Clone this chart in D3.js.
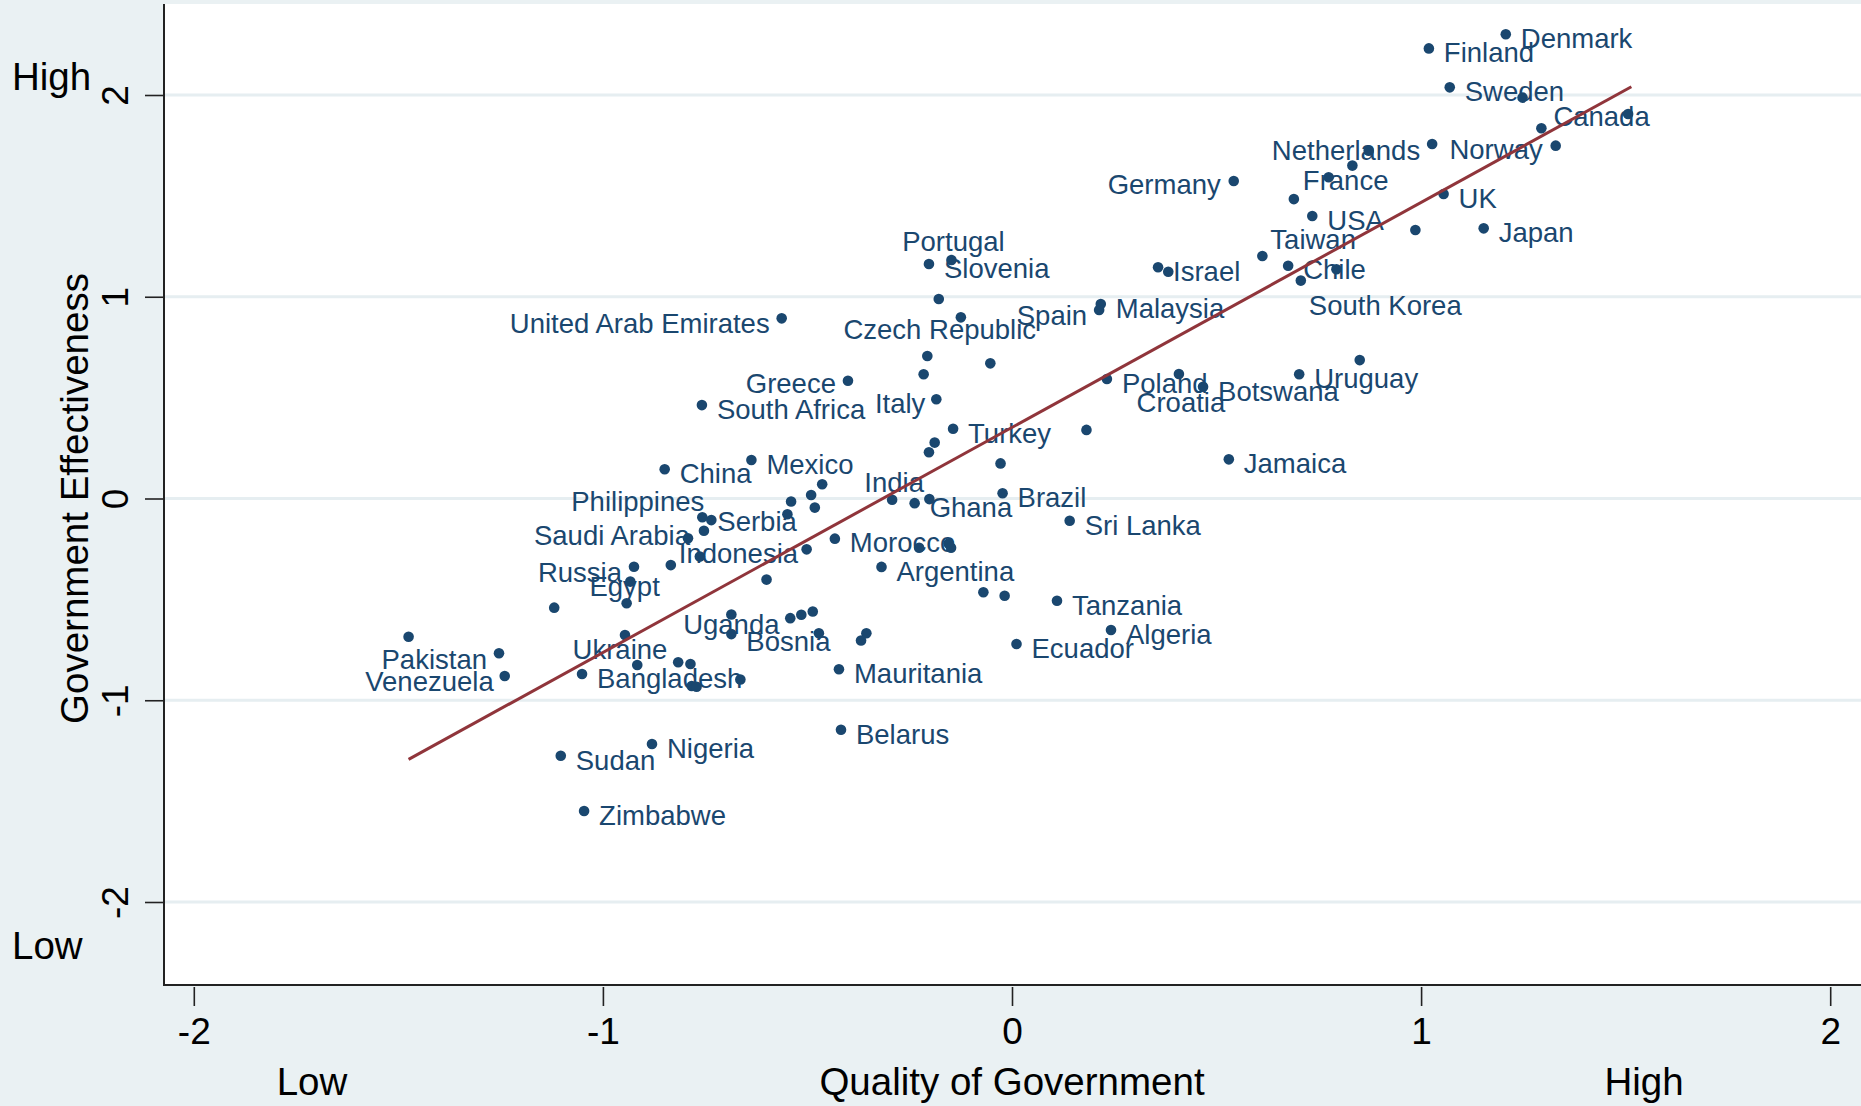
<!DOCTYPE html>
<html>
<head>
<meta charset="utf-8">
<script src="https://cdn.jsdelivr.net/npm/d3@7/dist/d3.min.js"></script>
<style>
  html, body { margin: 0; padding: 0; background: #eaf1f3; }
  svg { display: block; }
  text { font-family: "Liberation Sans", Arial, Helvetica, sans-serif; }
</style>
</head>
<body>
<svg id="chart" width="1861" height="1106"></svg>
<script>
// ---------------- DATA ----------------
// Country names ("" = unlabeled marker)
const countries = [
  "Denmark","Finland","Sweden","Canada","Netherlands","Norway","Germany","France","UK","USA",
  "Japan","Taiwan","Chile","South Korea","Israel","Malaysia","Spain","Poland","Croatia","Botswana",
  "Uruguay","Jamaica","Brazil","Sri Lanka","Tanzania","Algeria","Ecuador","Portugal","Slovenia","Czech Republic",
  "United Arab Emirates","Greece","South Africa","Italy","Turkey","Mexico","China","India","Ghana","Philippines",
  "Serbia","Saudi Arabia","Indonesia","Russia","Egypt","Pakistan","Venezuela","Ukraine","Bangladesh","Uganda",
  "Bosnia","Argentina","Morocco","Mauritania","Belarus","Sudan","Nigeria","Zimbabwe",
  "","","","","","","","","","",
  "","","","","","","","","","",
  "","","","","","","","","","",
  "","","","","","","","","","",
  "","","","",""
];
// Quality of Government (x)
const qualityOfGovernment = [
  1.207, 1.019, 1.070, 1.294, 1.027, 1.329, 0.542, 0.689, 1.055, 0.734,
  1.153, 0.612, 0.675, 0.706, 0.357, 0.217, 0.213, 0.232, 0.408, 0.467,
  0.702, 0.530, -0.023, 0.141, 0.110, 0.242, 0.011, -0.148, -0.203, -0.179,
  -0.563, -0.401, -0.758, -0.185, -0.144, -0.637, -0.849, -0.293, -0.238, -0.735,
  -0.757, -0.753, -0.834, -0.924, -0.942, -1.254, -1.240, -0.946, -1.051, -0.686,
  -0.686, -0.319, -0.433, -0.423, -0.418, -1.103, -0.880, -1.046,
  1.248, 1.506, 0.872, 0.832, 0.774, 0.986, 0.793, 0.382, 0.850, 0.182,
  -0.070, -0.018, -0.125, -0.207, -0.053, -0.216, -0.189, -0.203, -0.028, -0.464,
  -0.491, -0.482, -0.540, -0.549, -0.202, -0.792, -0.763, -0.933, -1.119, -1.475,
  -0.502, -0.227, -0.155, -0.149, -0.600, -0.542, -0.515, -0.487, -0.472, -0.356,
  -0.369, -0.664, -0.816, -0.786, -0.783
];
// Government Effectiveness (y)
const governmentEffectiveness = [
  2.301, 2.231, 2.038, 1.835, 1.757, 1.749, 1.574, 1.484, 1.509, 1.400,
  1.339, 1.202, 1.154, 1.080, 1.146, 0.964, 0.934, 0.592, 0.617, 0.554,
  0.616, 0.194, 0.026, -0.110, -0.507, -0.652, -0.721, 1.182, 1.162, 0.989,
  0.893, 0.584, 0.463, 0.492, 0.346, 0.191, 0.145, -0.006, -0.023, -0.107,
  -0.093, -0.160, -0.330, -0.338, -0.519, -0.767, -0.880, -0.677, -0.870, -0.575,
  -0.672, -0.339, -0.199, -0.846, -1.146, -1.275, -1.217, -1.549,
  1.987, 1.906, 1.724, 1.650, 1.592, 1.331, 1.136, 1.124, 0.686, 0.340,
  -0.465, -0.482, 0.898, 0.706, 0.670, 0.616, 0.277, 0.229, 0.174, 0.071,
  0.017, -0.045, -0.015, -0.078, -0.003, -0.197, -0.288, -0.412, -0.541, -0.685,
  -0.252, -0.244, -0.223, -0.244, -0.402, -0.593, -0.576, -0.560, -0.668, -0.668,
  -0.704, -0.897, -0.812, -0.820, -0.929
];
// extra unlabeled points not in first block
const extraQog = [-0.771, -0.916];
const extraGe  = [-0.933, -0.825];

// Fitted line end points [x, y]
const fitLine = [[-1.475, -1.293], [1.514, 2.041]];

// Axis ticks
const xTickValues = [-2, -1, 0, 1, 2];
const xTickLabels = ["-2", "-1", "0", "1", "2"];
const yTickValues = [-2, -1, 0, 1, 2];
const yTickLabels = ["-2", "-1", "0", "1", "2"];

// ---------------- LAYOUT / STYLE ----------------
const W = 1861, H = 1106;
const plot = { left: 164, right: 1861, top: 4, bottom: 985 };
const navy = "#1a476f", red = "#90353b";
const labelFont = 27.5, axisFont = 37, titleFont = 38.5;

// label placement relative to marker: [dx, dy, anchor]
const labelPlacement = {
  "Canada": [12, -12, "start"], "Netherlands": [-12, 6, "end"], "Norway": [-13, 4, "end"],
  "Germany": [-13, 3, "end"], "France": [9, -19, "start"], "Taiwan": [8, -17, "start"],
  "South Korea": [8, 25, "start"], "Spain": [-12, 5, "end"], "Croatia": [2, 28, "middle"],
  "Portugal": [2, -19, "middle"], "Czech Republic": [1, 30, "middle"],
  "United Arab Emirates": [-12, 5, "end"], "Greece": [-12, 3, "end"], "Italy": [-11, 4, "end"],
  "India": [2, -18, "middle"], "Philippines": [-7, -19, "end"], "Saudi Arabia": [-14, 4, "end"],
  "Indonesia": [8, -12, "start"], "Russia": [-12, 5, "end"], "Egypt": [-2, -17, "middle"],
  "Pakistan": [-12, 6, "end"], "Venezuela": [-11, 5, "end"], "Ukraine": [-5, 14, "middle"],
  "Uganda": [0, 10, "middle"], "Bosnia": [15, 7, "start"]
};
const defaultPlacement = [15, 4, "start"];

// ---------------- DRAW ----------------
const svg = d3.select("#chart");
const x = d3.scaleLinear().domain([-2, 2]).range([193.8, 1830.2]);
const y = d3.scaleLinear().domain([-2, 2]).range([902, 95]);

svg.append("rect").attr("x", 0).attr("y", 0).attr("width", W).attr("height", H).attr("fill", "#eaf1f3");
svg.append("rect").attr("x", plot.left).attr("y", plot.top)
  .attr("width", plot.right - plot.left).attr("height", plot.bottom - plot.top).attr("fill", "#ffffff");

// gridlines
svg.append("g").selectAll("line").data(yTickValues).join("line")
  .attr("x1", plot.left).attr("x2", plot.right)
  .attr("y1", d => y(d)).attr("y2", d => y(d))
  .attr("stroke", "#e6eef1").attr("stroke-width", 3);

// x axis
const xAxis = d3.axisBottom(x).tickValues(xTickValues)
  .tickFormat((d, i) => xTickLabels[i]).tickSize(19).tickSizeOuter(0).tickPadding(12);
const gx = svg.append("g").attr("transform", `translate(0,${plot.bottom + 2})`).call(xAxis);
gx.select(".domain").remove();
gx.selectAll(".tick line").attr("stroke", "#222").attr("stroke-width", 1.6);
gx.selectAll(".tick text").attr("font-size", axisFont).attr("fill", "#000")
  .attr("font-family", "Liberation Sans, Arial, sans-serif");

// y axis
const yAxis = d3.axisLeft(y).tickValues(yTickValues)
  .tickFormat((d, i) => yTickLabels[i]).tickSize(19).tickSizeOuter(0);
const gy = svg.append("g").attr("transform", `translate(${plot.left},0)`).call(yAxis);
gy.select(".domain").remove();
gy.selectAll(".tick line").attr("stroke", "#222").attr("stroke-width", 1.6);
gy.selectAll(".tick text")
  .attr("font-size", axisFont).attr("fill", "#000")
  .attr("font-family", "Liberation Sans, Arial, sans-serif")
  .attr("x", null).attr("dy", null)
  .attr("text-anchor", "middle")
  .attr("transform", `translate(${128 - plot.left},0) rotate(-90)`);

// axis lines
svg.append("line").attr("x1", plot.left).attr("x2", plot.left).attr("y1", plot.top).attr("y2", plot.bottom + 1)
  .attr("stroke", "#222").attr("stroke-width", 2);
svg.append("line").attr("x1", plot.left - 1).attr("x2", plot.right).attr("y1", plot.bottom).attr("y2", plot.bottom)
  .attr("stroke", "#222").attr("stroke-width", 2);

// points
const pts = countries.map((c, i) => ({ name: c, qx: qualityOfGovernment[i], gy: governmentEffectiveness[i] }))
  .concat(extraQog.map((v, i) => ({ name: "", qx: v, gy: extraGe[i] })));
svg.append("g").selectAll("circle").data(pts).join("circle")
  .attr("cx", d => x(d.qx)).attr("cy", d => y(d.gy)).attr("r", 5.3).attr("fill", navy);

// labels
svg.append("g").selectAll("text").data(pts.filter(d => d.name)).join("text")
  .attr("x", d => x(d.qx) + (labelPlacement[d.name] || defaultPlacement)[0])
  .attr("y", d => y(d.gy) + (labelPlacement[d.name] || defaultPlacement)[1] + labelFont * 0.357)
  .attr("text-anchor", d => (labelPlacement[d.name] || defaultPlacement)[2])
  .attr("font-size", labelFont).attr("fill", navy)
  .text(d => d.name);

// fitted line
svg.append("path").datum(fitLine)
  .attr("d", d3.line().x(d => x(d[0])).y(d => y(d[1])))
  .attr("stroke", red).attr("stroke-width", 3).attr("fill", "none");

// axis titles
svg.append("text").attr("x", 1012).attr("y", 1095).attr("text-anchor", "middle")
  .attr("font-size", titleFont).attr("fill", "#000").text("Quality of Government");
svg.append("text").attr("x", 312).attr("y", 1095).attr("text-anchor", "middle")
  .attr("font-size", titleFont).attr("fill", "#000").text("Low");
svg.append("text").attr("x", 1644).attr("y", 1095).attr("text-anchor", "middle")
  .attr("font-size", titleFont).attr("fill", "#000").text("High");
svg.append("text").attr("transform", `translate(88,${y(0)}) rotate(-90)`).attr("text-anchor", "middle")
  .attr("font-size", titleFont).attr("fill", "#000").text("Government Effectiveness");
svg.append("text").attr("x", 12).attr("y", 90).attr("font-size", titleFont).attr("fill", "#000").text("High");
svg.append("text").attr("x", 12).attr("y", 959).attr("font-size", titleFont).attr("fill", "#000").text("Low");
</script>
</body>
</html>
